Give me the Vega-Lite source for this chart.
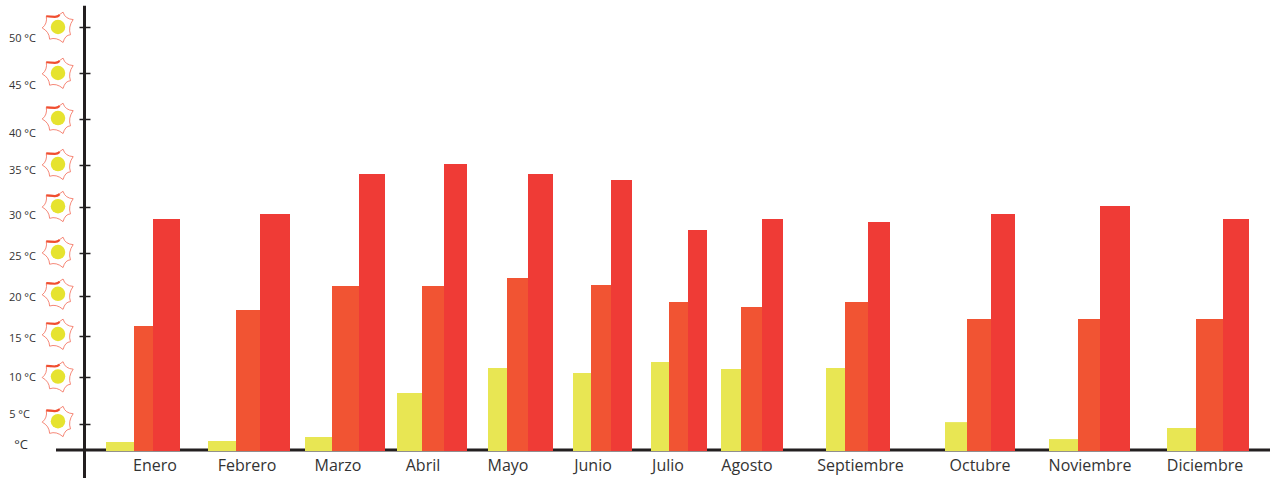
{
"$schema":"https://vega.github.io/schema/vega-lite/v6.json",
"width":1270,"height":478,"padding":0,"autosize":{"type":"none"},
"background":"white",
"config":{"view":{"stroke":null}},
"datasets":{
"bars":[
{"mes":"Enero","serie":"Mínima","start":106,"end":134,"temp":1.54},{"mes":"Enero","serie":"Media","start":134,"end":153,"temp":16.25},{"mes":"Enero","serie":"Máxima","start":153,"end":180,"temp":28.7},
{"mes":"Febrero","serie":"Mínima","start":208,"end":236,"temp":1.73},{"mes":"Febrero","serie":"Media","start":236,"end":260,"temp":18.25},{"mes":"Febrero","serie":"Máxima","start":260,"end":290,"temp":29.24},
{"mes":"Marzo","serie":"Mínima","start":305,"end":332,"temp":2.5},{"mes":"Marzo","serie":"Media","start":332,"end":359,"temp":21.16},{"mes":"Marzo","serie":"Máxima","start":359,"end":385,"temp":33.93},
{"mes":"Abril","serie":"Mínima","start":397,"end":422,"temp":8.3},{"mes":"Abril","serie":"Media","start":422,"end":444,"temp":21.16},{"mes":"Abril","serie":"Máxima","start":444,"end":467,"temp":35.1},
{"mes":"Mayo","serie":"Mínima","start":488,"end":507,"temp":11.1},{"mes":"Mayo","serie":"Media","start":507,"end":528,"temp":22.1},{"mes":"Mayo","serie":"Máxima","start":528,"end":553,"temp":33.93},
{"mes":"Junio","serie":"Mínima","start":573,"end":591,"temp":10.5},{"mes":"Junio","serie":"Media","start":591,"end":611,"temp":21.28},{"mes":"Junio","serie":"Máxima","start":611,"end":632,"temp":33.2},
{"mes":"Julio","serie":"Mínima","start":651,"end":669,"temp":11.83},{"mes":"Julio","serie":"Media","start":669,"end":688,"temp":19.25},{"mes":"Julio","serie":"Máxima","start":688,"end":707,"temp":27.5},
{"mes":"Agosto","serie":"Mínima","start":721,"end":741,"temp":10.98},{"mes":"Agosto","serie":"Media","start":741,"end":762,"temp":18.63},{"mes":"Agosto","serie":"Máxima","start":762,"end":783,"temp":28.7},
{"mes":"Septiembre","serie":"Mínima","start":826,"end":845,"temp":11.1},{"mes":"Septiembre","serie":"Media","start":845,"end":868,"temp":19.25},{"mes":"Septiembre","serie":"Máxima","start":868,"end":890,"temp":28.37},
{"mes":"Octubre","serie":"Mínima","start":945,"end":967,"temp":5.2},{"mes":"Octubre","serie":"Media","start":967,"end":991,"temp":17.13},{"mes":"Octubre","serie":"Máxima","start":991,"end":1015,"temp":29.24},
{"mes":"Noviembre","serie":"Mínima","start":1049,"end":1078,"temp":2.1},{"mes":"Noviembre","serie":"Media","start":1078,"end":1100,"temp":17.13},{"mes":"Noviembre","serie":"Máxima","start":1100,"end":1130,"temp":30.12},
{"mes":"Diciembre","serie":"Mínima","start":1167,"end":1196,"temp":4.23},{"mes":"Diciembre","serie":"Media","start":1196,"end":1223,"temp":17.13},{"mes":"Diciembre","serie":"Máxima","start":1223,"end":1249,"temp":28.7}
],
"months":[
{"mes":"Enero","pos":155},{"mes":"Febrero","pos":247},{"mes":"Marzo","pos":338},{"mes":"Abril","pos":423},{"mes":"Mayo","pos":508},{"mes":"Junio","pos":593},{"mes":"Julio","pos":668},{"mes":"Agosto","pos":747},{"mes":"Septiembre","pos":860.5},{"mes":"Octubre","pos":980},{"mes":"Noviembre","pos":1090},{"mes":"Diciembre","pos":1205}
],
"suns":[
{"pos":58,"temp":50},{"pos":58,"temp":45},{"pos":58,"temp":40.1},{"pos":58,"temp":35.1},{"pos":58,"temp":30.1},{"pos":58,"temp":25.1},{"pos":58,"temp":20.25},{"pos":58,"temp":15.25},{"pos":58,"temp":10.05},{"pos":58,"temp":5.3}
],
"labels":[
{"label":"50 °C","pos":36,"temp":48.7},{"label":"45 °C","pos":36,"temp":43.6},{"label":"40 °C","pos":36,"temp":38.4},{"label":"35 °C","pos":36,"temp":34.3},{"label":"30 °C","pos":36,"temp":29},{"label":"25 °C","pos":36,"temp":24.55},{"label":"20 °C","pos":36,"temp":19.8},{"label":"15 °C","pos":36,"temp":14.65},{"label":"10 °C","pos":36,"temp":9.9},{"label":"5 °C","pos":30,"temp":6}
]
},
"layer":[
{"data":{"values":[{"from":56,"to":1270,"temp":0}]},
 "mark":{"type":"rule","color":"#231f20","strokeWidth":3},
 "encoding":{"x":{"field":"from","type":"quantitative","scale":{"domain":[0,1270],"range":[0,1270],"nice":false},"axis":null},"x2":{"field":"to"},
 "y":{"field":"temp","type":"quantitative","scale":{"domain":[0,5,10,15,20,25,30,35,40,45,50],"range":[450,424,377,336,296,253,207,165,119,73,27],"nice":false},
  "axis":{"values":[5,10,15,20,25,30,35,40,45,50],"labels":false,"domain":false,"grid":false,"title":null,"offset":-90,"tickSize":11,"tickWidth":1.5,"tickColor":"#231f20"}}}},
{"data":{"name":"bars"},
 "mark":{"type":"rect"},
 "encoding":{"x":{"field":"start","type":"quantitative"},"x2":{"field":"end"},
 "y":{"field":"temp","type":"quantitative"},"y2":{"datum":-0.2},
 "color":{"field":"serie","type":"nominal","legend":null,"scale":{"domain":["Mínima","Media","Máxima"],"range":["#e8e653","#f15433","#ef3b36"]}}}},
{"data":{"values":[{"pos":84.5,"low":-5.38,"high":52.3}]},
 "mark":{"type":"rule","color":"#231f20","strokeWidth":3},
 "encoding":{"x":{"field":"pos","type":"quantitative"},"y":{"field":"low","type":"quantitative"},"y2":{"field":"high"}}},
{"data":{"name":"suns"},
 "mark":{"type":"point","shape":"M -1 .06 Q -.66 -.2 -.74 -.68 Q -.2 -.5 .32 -.94 Q .45 -.5 .96 -.47 Q .62 0 .79 .49 Q .45 .5 .32 .98 Q -.1 .62 -.53 .77 Q -.55 .3 -1 .06 Z","size":1000,"filled":false,"stroke":"#f26a55","strokeWidth":0.8,"opacity":1},
 "encoding":{"x":{"field":"pos","type":"quantitative"},"y":{"field":"temp","type":"quantitative"}}},
{"data":{"name":"suns"},
 "mark":{"type":"point","shape":"M -.74 -.68 Q -.45 -.68 -.2 -.64 Q -.02 -.64 .1 -.76","size":1000,"filled":false,"stroke":"#f04e30","strokeWidth":2.2,"opacity":1},
 "encoding":{"x":{"field":"pos","type":"quantitative"},"y":{"field":"temp","type":"quantitative"}}},
{"data":{"name":"suns"},
 "mark":{"type":"point","shape":"circle","size":210,"filled":true,"color":"#e6e32f","opacity":1},
 "encoding":{"x":{"field":"pos","type":"quantitative"},"y":{"field":"temp","type":"quantitative"}}},
{"data":{"name":"labels"},
 "mark":{"type":"text","align":"right","baseline":"middle","font":"Open Sans","fontSize":11,"color":"#333333"},
 "encoding":{"x":{"field":"pos","type":"quantitative"},"y":{"field":"temp","type":"quantitative"},"text":{"field":"label"}}},
{"data":{"values":[{"label":"°C","pos":28,"temp":0.96}]},
 "mark":{"type":"text","align":"right","baseline":"middle","font":"Open Sans","fontSize":13,"color":"#333333"},
 "encoding":{"x":{"field":"pos","type":"quantitative"},"y":{"field":"temp","type":"quantitative"},"text":{"field":"label"}}},
{"data":{"name":"months"},
 "mark":{"type":"text","align":"center","baseline":"middle","font":"Open Sans","fontSize":16,"color":"#333333"},
 "encoding":{"x":{"field":"pos","type":"quantitative"},"y":{"datum":-3},"text":{"field":"mes"}}}
]
}
